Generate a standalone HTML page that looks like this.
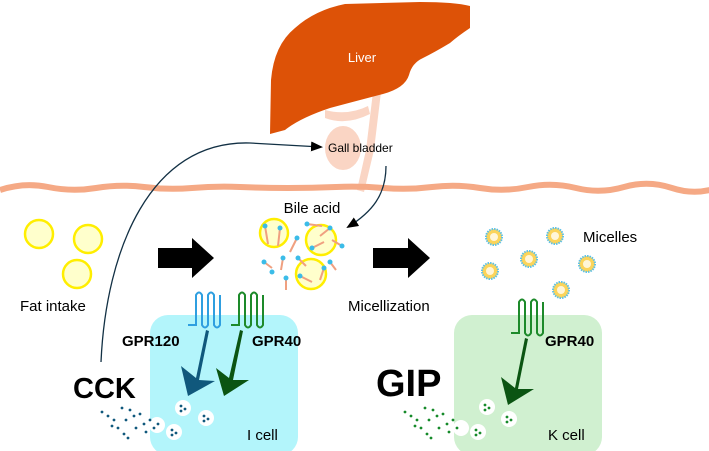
<!DOCTYPE html>
<html><head><meta charset="utf-8"><style>
html,body{margin:0;padding:0;background:#fff;width:709px;height:451px;overflow:hidden}
text{font-family:"Liberation Sans",Arial,sans-serif}
</style></head><body>
<svg width="709" height="451" viewBox="0 0 709 451" xmlns="http://www.w3.org/2000/svg">
<defs>
<marker id="ah" markerWidth="12" markerHeight="10" refX="10" refY="5" orient="auto" markerUnits="userSpaceOnUse"><path d="M0,0 L12,5 L0,10 Z" fill="#000"/></marker>
</defs>
<!-- cells -->
<rect x="150" y="315" width="148" height="140" rx="18" fill="#b3f5fb"/>
<rect x="454" y="315" width="148" height="140" rx="18" fill="#d0f0d0"/>
<!-- bile duct & gall bladder -->
<path d="M373,92 L381,92 L374,150 L364,192 L357,190 L366,150 Z" fill="#fad5c4"/>
<path d="M325,110 Q348,116 368,106 L370,114 Q346,126 325,118 Z" fill="#fad5c4"/>
<ellipse cx="343" cy="148" rx="18" ry="22" fill="#fad5c4"/>
<!-- liver -->
<path d="M270,134 L271,80 Q274,45 295,28 Q315,10 345,4 L420,2 Q455,2 470,6 L470,28 Q458,36 450,43 Q435,52 423,58 Q412,63 409,75 Q405,88 383,94 Q360,100 330,108 Q300,118 285,130 Z" fill="#dd5207"/>
<text x="362" y="62" font-size="13" fill="#fff" text-anchor="middle">Liver</text>
<!-- membrane -->
<path d="M0,190 Q24,182 48,187 T96,188 T144,187 T192,188 T240,187 T288,188 T336,187 T384,188 T432,187 T480,188 T528,187 T576,188 T624,187 T672,188 T720,187" stroke="#f5a985" stroke-width="6" fill="none"/>
<text x="328" y="152" font-size="12">Gall bladder</text>
<!-- curves -->
<path d="M101,362 C106,250 150,140 250,143 L321,147" stroke="#123044" stroke-width="1.3" fill="none" marker-end="url(#ah)"/>
<path d="M386,166 C386,195 372,212 348,227" stroke="#123044" stroke-width="1.3" fill="none" marker-end="url(#ah)"/>
<!-- fat circles -->
<g fill="#ffffcc" stroke="#ffee00" stroke-width="2.5">
<circle cx="39" cy="234" r="14"/><circle cx="88" cy="239" r="14"/><circle cx="77" cy="274" r="14"/>
<circle cx="274" cy="233" r="14"/><circle cx="321" cy="240" r="15"/><circle cx="311" cy="274" r="15"/>
</g>
<!-- bile acid molecules -->
<g stroke="#f0a080" stroke-width="2">
<line x1="265" y1="226" x2="268" y2="244"/><line x1="280" y1="228" x2="278" y2="246"/><line x1="297" y1="238" x2="290" y2="252"/>
<line x1="307" y1="224" x2="322" y2="226"/><line x1="330" y1="228" x2="320" y2="236"/><line x1="312" y1="248" x2="324" y2="242"/>
<line x1="332" y1="240" x2="342" y2="246"/><line x1="298" y1="258" x2="306" y2="266"/><line x1="283" y1="258" x2="281" y2="270"/>
<line x1="264" y1="262" x2="272" y2="268"/><line x1="300" y1="276" x2="312" y2="282"/><line x1="324" y1="268" x2="320" y2="280"/>
<line x1="286" y1="278" x2="286" y2="290"/><line x1="330" y1="262" x2="336" y2="270"/>
</g>
<g fill="#3bbce8">
<circle cx="265" cy="226" r="2.5"/><circle cx="280" cy="228" r="2.5"/><circle cx="297" cy="238" r="2.5"/><circle cx="307" cy="224" r="2.5"/>
<circle cx="330" cy="228" r="2.5"/><circle cx="312" cy="248" r="2.5"/><circle cx="342" cy="246" r="2.5"/><circle cx="298" cy="258" r="2.5"/>
<circle cx="283" cy="258" r="2.5"/><circle cx="264" cy="262" r="2.5"/><circle cx="300" cy="276" r="2.5"/><circle cx="324" cy="268" r="2.5"/>
<circle cx="286" cy="278" r="2.5"/><circle cx="330" cy="262" r="2.5"/><circle cx="272" cy="272" r="2.5"/>
</g>
<text x="312" y="213" font-size="15" text-anchor="middle">Bile acid</text>
<!-- micelles -->
<g fill="#fbd45a" stroke="#5bc0e8" stroke-width="2" stroke-dasharray="1.5 1">
<circle cx="494" cy="237" r="8"/><circle cx="555" cy="236" r="8"/><circle cx="529" cy="259" r="8"/>
<circle cx="490" cy="271" r="8"/><circle cx="587" cy="264" r="8"/><circle cx="561" cy="290" r="8"/>
</g>
<g fill="#fff6d8"><circle cx="494" cy="237" r="4"/><circle cx="555" cy="236" r="4"/><circle cx="529" cy="259" r="4"/><circle cx="490" cy="271" r="4"/><circle cx="587" cy="264" r="4"/><circle cx="561" cy="290" r="4"/></g>
<text x="583" y="242" font-size="15">Micelles</text>
<!-- block arrows -->
<path d="M158,248 L192,248 L192,238 L214,258 L192,278 L192,268 L158,268 Z" fill="#000"/>
<path d="M373,248 L408,248 L408,238 L430,258 L408,278 L408,268 L373,268 Z" fill="#000"/>
<text x="20" y="311" font-size="15">Fat intake</text>
<text x="348" y="311" font-size="15">Micellization</text>
<!-- receptors -->
<g fill="none" stroke-width="2">
<path d="M188,325 L196,325 L196,295 Q199,290 202,295 L202,325 Q205,330 208,325 L208,295 Q211,290 214,295 L214,325 Q217,330 220,325 L220,295" stroke="#2f9fe0"/>
<path d="M231,325 L239,325 L239,295 Q242,290 245,295 L245,325 Q248,330 251,325 L251,295 Q254,290 257,295 L257,325 Q260,330 263,325 L263,295" stroke="#1d8a2a"/>
<path d="M511,333 L519,333 L519,302 Q522,297 525,302 L525,333 Q528,338 531,333 L531,302 Q534,297 537,302 L537,333 Q540,338 543,333 L543,302" stroke="#1d8a2a"/>
</g>
<text x="122" y="346" font-size="15" font-weight="bold">GPR120</text>
<text x="252" y="346" font-size="15" font-weight="bold">GPR40</text>
<text x="545" y="346" font-size="15" font-weight="bold">GPR40</text>
<!-- thick arrows -->
<path d="M206,330 L196,378 L181,366 L188,396 L215,381 L199,380 L209,331 Z" fill="#10587c"/>
<path d="M240,330 L229,378 L216,368 L224,396 L249,380 L233,380 L243,331 Z" fill="#0b5412"/>
<path d="M525,338 L515,388 L501,377 L508,405 L534,389 L518,389 L528,339 Z" fill="#0b5412"/>
<text x="73" y="398" font-size="29" font-weight="bold">CCK</text>
<text x="376" y="396" font-size="38" font-weight="bold">GIP</text>
<!-- vesicles -->
<g fill="#fff"><circle cx="183" cy="408" r="8"/><circle cx="206" cy="418" r="8"/><circle cx="174" cy="432" r="8"/><circle cx="157" cy="425" r="8"/>
<circle cx="487" cy="407" r="8"/><circle cx="509" cy="419" r="8"/><circle cx="478" cy="432" r="8"/><circle cx="461" cy="428" r="8"/></g>
<g fill="#10587c"><circle cx="181" cy="406" r="1.4"/><circle cx="185" cy="409" r="1.4"/><circle cx="181" cy="411" r="1.4"/>
<circle cx="204" cy="416" r="1.4"/><circle cx="208" cy="419" r="1.4"/><circle cx="204" cy="421" r="1.4"/>
<circle cx="172" cy="430" r="1.4"/><circle cx="176" cy="433" r="1.4"/><circle cx="172" cy="435" r="1.4"/>
<circle cx="102" cy="412" r="1.4"/><circle cx="108" cy="416" r="1.4"/><circle cx="114" cy="420" r="1.4"/><circle cx="122" cy="408" r="1.4"/>
<circle cx="130" cy="410" r="1.4"/><circle cx="134" cy="416" r="1.4"/><circle cx="140" cy="414" r="1.4"/><circle cx="126" cy="420" r="1.4"/>
<circle cx="118" cy="428" r="1.4"/><circle cx="124" cy="434" r="1.4"/><circle cx="144" cy="424" r="1.4"/><circle cx="150" cy="420" r="1.4"/>
<circle cx="136" cy="428" r="1.4"/><circle cx="112" cy="426" r="1.4"/><circle cx="146" cy="432" r="1.4"/><circle cx="128" cy="438" r="1.4"/>
<circle cx="154" cy="428" r="1.4"/><circle cx="158" cy="424" r="1.4"/></g>
<g fill="#168a2a"><circle cx="485" cy="405" r="1.4"/><circle cx="489" cy="408" r="1.4"/><circle cx="485" cy="410" r="1.4"/>
<circle cx="507" cy="417" r="1.4"/><circle cx="511" cy="420" r="1.4"/><circle cx="507" cy="422" r="1.4"/>
<circle cx="476" cy="430" r="1.4"/><circle cx="480" cy="433" r="1.4"/><circle cx="476" cy="435" r="1.4"/>
<circle cx="405" cy="412" r="1.4"/><circle cx="411" cy="416" r="1.4"/><circle cx="417" cy="420" r="1.4"/><circle cx="425" cy="408" r="1.4"/>
<circle cx="433" cy="410" r="1.4"/><circle cx="437" cy="416" r="1.4"/><circle cx="443" cy="414" r="1.4"/><circle cx="429" cy="420" r="1.4"/>
<circle cx="421" cy="428" r="1.4"/><circle cx="427" cy="434" r="1.4"/><circle cx="447" cy="424" r="1.4"/><circle cx="453" cy="420" r="1.4"/>
<circle cx="439" cy="428" r="1.4"/><circle cx="415" cy="426" r="1.4"/><circle cx="449" cy="432" r="1.4"/><circle cx="431" cy="438" r="1.4"/>
<circle cx="457" cy="428" r="1.4"/></g>
<text x="247" y="440" font-size="15">I cell</text>
<text x="548" y="440" font-size="15">K cell</text>
</svg>
</body></html>
